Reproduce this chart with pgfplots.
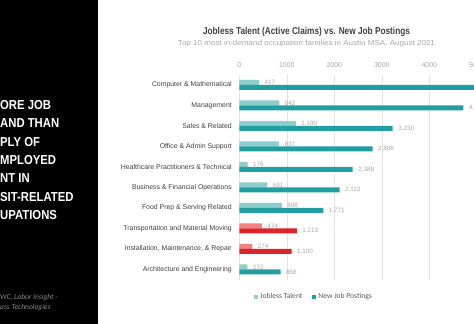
\documentclass[border=0pt]{standalone}
\usepackage{pgfplots}
\pgfplotsset{compat=1.18}
\usepackage{graphicx}
\usepackage{fontspec}
\setmainfont{Liberation Sans}
\newfontfamily\calibri{Carlito}
\definecolor{tealL}{HTML}{8CCDCD}
\definecolor{tealD}{HTML}{219EA1}
\definecolor{redL}{HTML}{F08282}
\definecolor{redD}{HTML}{DC2328}
\definecolor{gridgray}{HTML}{E3E3E3}
\definecolor{labgray}{HTML}{404040}
\definecolor{tickgray}{HTML}{A6A6A6}
\definecolor{valgray}{HTML}{A6A6A6}
\definecolor{leggray}{HTML}{595959}
\definecolor{srcgray}{HTML}{8C8C8C}
\begin{document}
\begin{tikzpicture}[x=1pt,y=1pt]
\fill[black] (0,0) rectangle (98.3,324);
% left headline (cropped at the left edge, as in the reference)
\begin{scope}[every node/.style={inner sep=0pt, anchor=base west, text=white, font=\fontsize{13}{15}\selectfont\bfseries}]
\node at (0,324-109.7) {\scalebox{0.87}[1]{\llap{M}ORE JOB}};
\node at (0,324-128.0) {\scalebox{0.87}[1]{\llap{DEM}AND THAN}};
\node at (0,324-146.3) {\scalebox{0.87}[1]{\llap{SUP}PLY OF}};
\node at (0,324-164.7) {\scalebox{0.87}[1]{\llap{UNE}MPLOYED}};
\node at (0,324-183.0) {\scalebox{0.87}[1]{\llap{TALE}NT IN}};
\node at (0,324-201.3) {\scalebox{0.87}[1]{\llap{TRAN}SIT-RELATED}};
\node at (0,324-219.7) {\scalebox{0.87}[1]{\llap{OCC}UPATIONS}};
\end{scope}
\begin{scope}[every node/.style={inner sep=0pt, anchor=base west, text=srcgray, font=\calibri\itshape\fontsize{7.5}{9}\selectfont}]
\node at (0,324-299.5) {\llap{Source: T}WC, Labor Insight -};
\node at (0,324-309.5) {\llap{Burning Gl}ass Technologies};
\end{scope}
% titles
\node[inner sep=0pt, text=labgray, font=\bfseries\fontsize{10}{12}\selectfont] at (306.5,324-32) {\resizebox{207pt}{\height}{Jobless Talent (Active Claims) vs. New Job Postings}};
\node[inner sep=0pt, text=tickgray, font=\fontsize{7.3}{9}\selectfont] at (306.5,324-44) {\resizebox{257pt}{\height}{Top 10 most in-demand occupation families in Austin MSA, August 2021}};
\begin{axis}[
  at={(239.3pt,44.25pt)}, anchor=south west,
  scale only axis, width=237.5pt, height=205pt,
  xmin=0, xmax=5000, ymin=-0.5, ymax=9.5,
  xbar, bar width=5pt,
  axis line style={draw=none}, tick style={draw=none},
  major tick length=0pt,
  xmajorgrids, grid style={draw=gridgray, line width=0.6pt},
  xtick={0,1000,2000,3000,4000,5000},
  xticklabel pos=upper,
  /pgf/number format/assume math mode=true,
  xticklabel style={font=\fontsize{7}{8}\selectfont, text=tickgray, /pgf/number format/1000 sep={}, yshift=3.5pt},
  ytick={0,1,2,3,4,5,6,7,8,9},
  yticklabels={Architecture and Engineering, {Installation, Maintenance, \& Repair}, Transportation and Material Moving, Food Prep \& Serving Related, Business \& Financial Operations, Healthcare Practitioners \& Technical, Office \& Admin Support, Sales \& Related, Management, Computer \& Mathematical},
  yticklabel style={font=\fontsize{6.9}{8}\selectfont, text=labgray, xshift=-4pt},
  nodes near coords,
  nodes near coords style={font=\fontsize{6.3}{7}\selectfont, text=valgray, xshift=2pt, /pgf/number format/1000 sep={,}},
  legend style={at={(axis description cs:0.3145,-0.0841)}, anchor=center, draw=none, fill=none, inner sep=0pt,
     font=\calibri\fontsize{7.6}{9}\selectfont, text=leggray, legend columns=2,
     /tikz/every even column/.append style={column sep=8pt}},
  legend image code/.code={\fill[#1] (0pt,-2pt) rectangle (4pt,2pt);},
  clip=true,
]
\addplot[fill=tealL, draw=none, bar shift=2.5pt] coordinates {
 (172,0) (591,4) (898,3) (176,5) (837,6) (1190,7) (842,8) (417,9)};
\addlegendentry{Jobless Talent}
\addplot[fill=tealD, draw=none, bar shift=-2.5pt] coordinates {
 (868,0) (1771,3) (2113,4) (2388,5) (2806,6) (3230,7) (4716,8) (6950,9)};
\addlegendentry{New Job Postings}
\addplot[fill=redL, draw=none, bar shift=2.5pt, forget plot] coordinates {
 (274,1) (474,2)};
\addplot[fill=redD, draw=none, bar shift=-2.5pt, forget plot] coordinates {
 (1100,1) (1213,2)};
\end{axis}
\pgfresetboundingbox
\useasboundingbox (0,0) rectangle (474,324);
\end{tikzpicture}
\end{document}
